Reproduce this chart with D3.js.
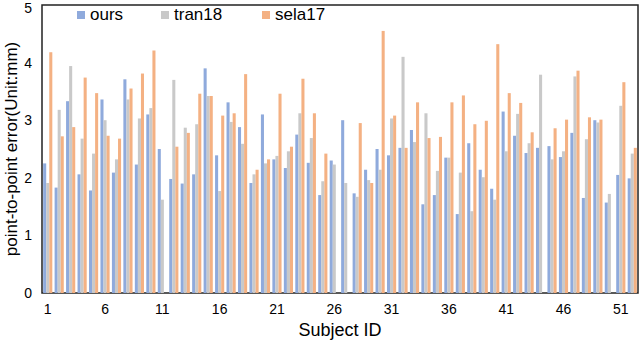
<!DOCTYPE html>
<html>
<head>
<meta charset="utf-8">
<script src="https://cdn.jsdelivr.net/npm/d3@7"></script>
<style>
  body { margin: 0; background: #fff; }
  text { font-family: "Liberation Sans", Arial, sans-serif; fill: #000; }
</style>
</head>
<body>
<div id="chart"></div>
<script>
// data (null = no bar)
var subjects = d3.range(1, 53);
var seriesNames = ["ours", "tran18", "sela17"];
var ours = [2.25, 1.83, 3.33, 2.06, 1.78, 3.36, 2.09, 3.71, 2.23, 3.10,
  2.50, 1.98, 1.90, 2.06, 3.90, 2.39, 3.31, 2.88, 1.91, 3.10,
  2.32, 2.17, 2.75, 2.26, 1.70, 2.30, 3.00, 1.73, 2.14, 2.50,
  2.39, 2.52, 2.83, 1.54, 1.70, 2.35, 1.37, 2.60, 2.14, 1.81,
  3.15, 2.73, 2.43, 2.52, 2.55, 2.36, 2.78, 1.65, 3.00, 1.57,
  2.05, 1.99];
var tran18 = [1.91, 3.18, 3.94, 2.68, 2.42, 3.00, 2.32, 3.36, 3.03, 3.21,
  1.62, 3.70, 2.87, 2.93, 3.42, 1.77, 2.97, 2.59, 2.06, 2.25,
  2.38, 2.46, 3.12, 2.69, 1.94, 2.23, 1.91, 1.67, 1.96, 2.14,
  3.03, 4.10, 2.62, 3.12, 2.12, 2.35, 2.09, 1.42, 2.01, 1.62,
  2.46, 3.11, 2.60, 3.79, 2.32, 2.46, 3.76, 2.67, 2.96, 1.72,
  3.25, 2.42];
var sela17 = [4.18, 2.72, 2.88, 3.74, 3.47, 2.73, 2.68, 3.55, 3.81, 4.21,
  null, 2.54, 2.78, 3.46, 3.42, 3.08, 3.12, 3.80, 2.14, 2.32,
  3.46, 2.54, 3.72, 3.12, 2.42, null, null, 2.95, 1.91, 4.55,
  3.08, 2.52, 3.31, 2.69, 2.71, 3.31, 3.43, 2.93, 2.99, 4.32,
  3.47, 3.30, 2.79, null, 2.86, 3.01, 3.86, 3.05, 3.01, null,
  3.66, 2.52];
var xTickLabels = [1, 6, 11, 16, 21, 26, 31, 36, 41, 46, 51];
var yTicks = [0, 1, 2, 3, 4, 5];
var colors = ["#8faadc", "#c9c9c9", "#f4b183"];

var svgWidth = 640;
var svgHeight = 343;
var margin = { top: 5, right: 2, bottom: 50, left: 42 };
var width = svgWidth - margin.left - margin.right;
var height = svgHeight - margin.top - margin.bottom;

var svg = d3.select("#chart")
  .append("svg")
  .attr("width", svgWidth)
  .attr("height", svgHeight);

var chartGroup = svg.append("g")
  .attr("transform", `translate(${margin.left}, ${margin.top})`);

var table = subjects.map(function(s, i) {
  return { id: s, values: [ours[i], tran18[i], sela17[i]] };
});

var x0 = d3.scaleBand()
  .domain(subjects)
  .range([0, width])
  .paddingInner(0.2)
  .paddingOuter(0.1);

var x1 = d3.scaleBand()
  .domain(d3.range(seriesNames.length))
  .range([0, x0.bandwidth()]);

var y = d3.scaleLinear()
  .domain([0, 5])
  .range([height, 0]);

// frame
chartGroup.append("rect")
  .attr("x", 0)
  .attr("y", 0)
  .attr("width", width)
  .attr("height", height)
  .attr("fill", "none")
  .attr("stroke", "#222")
  .attr("stroke-width", 1.5);

// bars
chartGroup.append("g")
  .selectAll("g")
  .data(table)
  .enter()
  .append("g")
  .attr("transform", d => `translate(${x0(d.id)}, 0)`)
  .selectAll("rect")
  .data(d => d.values.map((v, k) => ({ k: k, v: v })).filter(e => e.v !== null))
  .enter()
  .append("rect")
  .attr("x", e => x1(e.k))
  .attr("y", e => y(e.v))
  .attr("width", x1.bandwidth())
  .attr("height", e => height - y(e.v))
  .attr("fill", e => colors[e.k]);

// y axis labels
var leftAxis = d3.axisLeft(y).tickValues(yTicks).tickFormat(d3.format("d")).tickSize(0).tickPadding(10);
var yAxisG = chartGroup.append("g").call(leftAxis);
yAxisG.select(".domain").remove();
yAxisG.selectAll("text")
  .attr("font-size", "14px")
  .style("font-family", "'Liberation Sans', Arial, sans-serif");
// keep the top label inside the page
yAxisG.selectAll("text").filter(d => d === 5).attr("dy", "0.5em");

// x axis labels
var bottomAxis = d3.axisBottom(x0).tickValues(xTickLabels).tickSize(0).tickPadding(11);
var xAxisG = chartGroup.append("g")
  .attr("transform", `translate(0, ${height})`)
  .call(bottomAxis);
xAxisG.select(".domain").remove();
xAxisG.selectAll("text")
  .attr("font-size", "14px")
  .style("font-family", "'Liberation Sans', Arial, sans-serif");

// axis titles
svg.append("text")
  .attr("x", margin.left + width / 2)
  .attr("y", 336)
  .attr("text-anchor", "middle")
  .attr("font-size", "18px")
  .text("Subject ID");

svg.append("text")
  .attr("transform", "rotate(-90)")
  .attr("x", -(margin.top + height / 2))
  .attr("y", 17)
  .attr("text-anchor", "middle")
  .attr("font-size", "17px")
  .text("point-to-point error(Unit:mm)");

// legend
var legendX = [77, 161, 262];
var legend = svg.append("g")
  .selectAll("g")
  .data(seriesNames)
  .enter()
  .append("g")
  .attr("transform", (d, i) => `translate(${legendX[i]}, 11)`);
legend.append("rect")
  .attr("width", 8)
  .attr("height", 8)
  .attr("fill", (d, i) => colors[i]);
legend.append("text")
  .attr("x", 13)
  .attr("y", 9)
  .attr("font-size", "17px")
  .text(d => d);
</script>
</body>
</html>
